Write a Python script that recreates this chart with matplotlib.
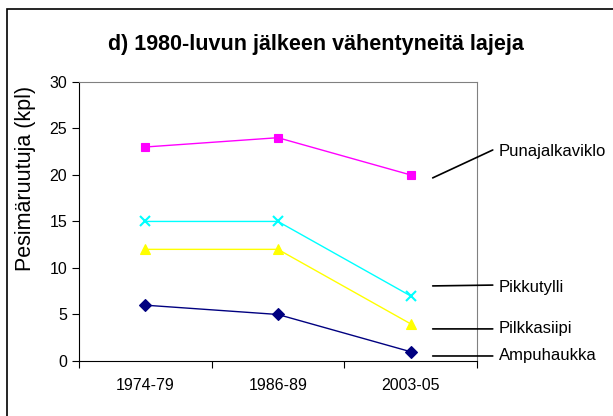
import matplotlib.pyplot as plt
from matplotlib.patches import Rectangle

plt.rcParams['font.family'] = ['Liberation Sans', 'DejaVu Sans']

periods = ['1974-79', '1986-89', '2003-05']
species = ['Punajalkaviklo', 'Pikkutylli', 'Pilkkasiipi', 'Ampuhaukka']
punajalkaviklo = [23, 24, 20]
pikkutylli = [15, 15, 7]
pilkkasiipi = [12, 12, 4]
ampuhaukka = [6, 5, 1]

series = [punajalkaviklo, pikkutylli, pilkkasiipi, ampuhaukka]
colors = ['#ff00ff', '#00ffff', '#ffff00', '#000080']
markers = ['s', 'x', '^', 'D']
msizes = [6, 7.5, 7, 6]

# label positions (axes fraction): line start, line end / text
label_lines = [((0.889, 0.656), (1.040, 0.756)),
               ((0.889, 0.269), (1.040, 0.272)),
               ((0.889, 0.115), (1.040, 0.115)),
               ((0.889, 0.018), (1.040, 0.018))]
label_text_y = [0.749, 0.262, 0.115, 0.018]

fig = plt.figure(figsize=(6.13, 4.16), dpi=100)
ax = fig.add_axes([0.1289, 0.1322, 0.649, 0.671])

x = range(len(periods))
for vals, c, m, ms in zip(series, colors, markers, msizes):
    ax.plot(x, vals, color=c, marker=m, markersize=ms, linewidth=1.0,
            markeredgewidth=1.5 if m == 'x' else 0.8, markeredgecolor=c)

ax.set_xlim(-0.5, 2.5)
ax.set_ylim(0, 30)
ax.set_yticks(range(0, 31, 5))
ax.set_xticks([-0.5, 0.5, 1.5, 2.5])
ax.set_xticklabels([])
ax.set_xticks(list(x), minor=True)
ax.set_xticklabels(periods, minor=True)
ax.tick_params(axis='x', which='minor', length=0, pad=12, labelsize=11.5)
ax.tick_params(axis='x', which='major', length=5, direction='out')
ax.tick_params(axis='y', length=5, direction='out', labelsize=11.5)

for s in ['top', 'right']:
    ax.spines[s].set_color('#808080')
for s in ['left', 'bottom']:
    ax.spines[s].set_color('black')

fig.text(26 / 613, 1 - 178 / 416, 'Pesimäruutuja (kpl)', rotation=90,
         ha='center', va='center', fontsize=15.5)
fig.text(0.515, 0.893, 'd) 1980-luvun jälkeen vähentyneitä lajeja',
         ha='center', va='center', fontsize=15.5, fontweight='bold')

for name, (start, end), ty in zip(species, label_lines, label_text_y):
    ax.annotate('', xy=start, xytext=end, xycoords='axes fraction',
                textcoords='axes fraction',
                arrowprops=dict(arrowstyle='-', color='black', lw=1.2,
                                shrinkA=0, shrinkB=0))
    ax.text(end[0] + 0.015, ty, name, transform=ax.transAxes,
            ha='left', va='center', fontsize=12)

fig.patches.append(Rectangle((7 / 613, -0.1), 1.2, 1 - 9 / 416 + 0.1,
                             transform=fig.transFigure, fill=False,
                             edgecolor='black', linewidth=1.2))

fig.savefig('out.png', dpi=100)
